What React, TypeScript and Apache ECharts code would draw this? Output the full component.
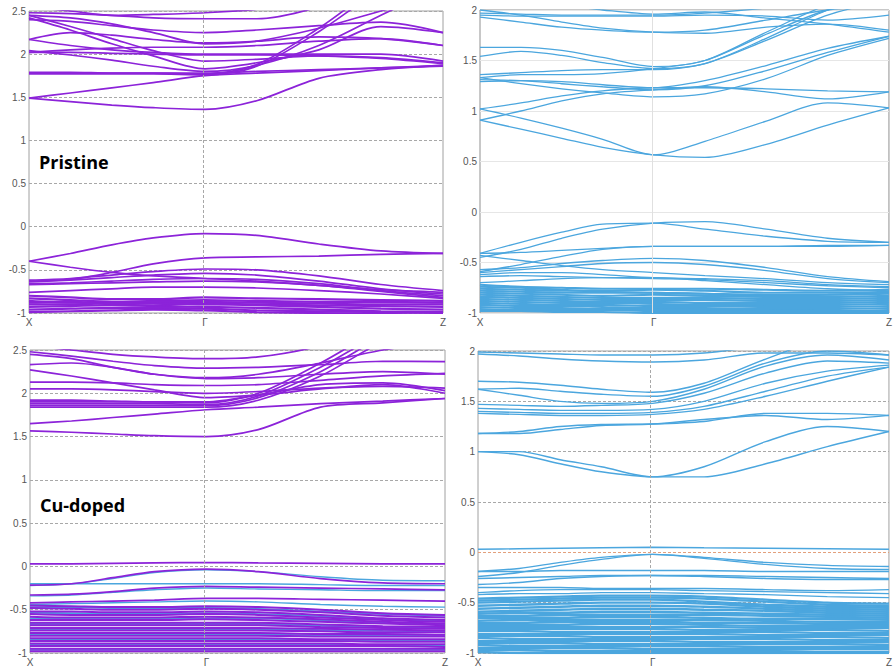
import React, { useEffect, useRef } from 'react';
import * as echarts from 'echarts';

// k-path positions (X → Γ → Z), Γ sits at 0.425 of the path length
const K = [0, 0.1, 0.2, 0.3, 0.425, 0.55, 0.7, 0.85, 1.0];
const K_TICKS = [0, 0.425, 1];
const K_NAMES = ['X', 'Γ', 'Z'];

const PURPLE = '#8C23D9';
const BLUE = '#4BA6DE';

// ---------- Panel 1: Pristine, spin up (purple) ----------
const P1_BANDS = [
  [1.49, 1.45, 1.41, 1.38, 1.36, 1.46, 1.72, 1.82, 1.87],
  [1.49, 1.55, 1.61, 1.67, 1.75, 1.78, 1.81, 1.84, 1.87],
  [1.77, 1.77, 1.77, 1.77, 1.76, 1.86, 2.26, 2.75, 3.1],
  [1.79, 1.79, 1.78, 1.78, 1.77, 1.88, 2.3, 2.8, 3.1],
  [1.78, 1.78, 1.78, 1.78, 1.78, 1.8, 1.82, 1.84, 1.86],
  [2.04, 1.99, 1.93, 1.86, 1.8, 1.87, 2.1, 2.45, 2.8],
  [2.42, 2.28, 2.12, 1.98, 1.83, 1.9, 2.05, 2.32, 2.25],
  [2.45, 2.32, 2.18, 2.04, 1.92, 1.94, 1.98, 1.96, 1.9],
  [2.02, 2.02, 2.01, 2.0, 1.99, 1.99, 1.98, 1.95, 1.89],
  [2.17, 2.1, 2.05, 2.02, 2.0, 2.0, 2.0, 2.0, 1.92],
  [2.02, 2.05, 2.07, 2.08, 2.08, 2.1, 2.15, 2.18, 2.1],
  [2.17, 2.25, 2.22, 2.17, 2.13, 2.15, 2.2, 2.18, 2.1],
  [2.4, 2.38, 2.33, 2.28, 2.25, 2.28, 2.33, 2.37, 2.25],
  [2.45, 2.42, 2.35, 2.25, 2.12, 2.15, 2.3, 2.5, 2.7],
  [2.48, 2.47, 2.45, 2.42, 2.41, 2.41, 2.55, 2.85, 3.1],
  [2.55, 2.5, 2.45, 2.46, 2.48, 2.52, 2.6, 2.8, 3.0],
  [-0.40, -0.31, -0.21, -0.13, -0.08, -0.1, -0.2, -0.28, -0.31],
  [-0.40, -0.47, -0.53, -0.57, -0.6, -0.63, -0.68, -0.73, -0.76],
  [-0.63, -0.61, -0.53, -0.43, -0.36, -0.35, -0.34, -0.32, -0.31],
  [-0.62, -0.6, -0.56, -0.52, -0.49, -0.5, -0.57, -0.67, -0.74],
  [-0.64, -0.62, -0.59, -0.56, -0.54, -0.56, -0.63, -0.72, -0.78],
  [-0.66, -0.65, -0.63, -0.61, -0.6, -0.61, -0.66, -0.74, -0.8],
  [-0.67, -0.66, -0.65, -0.64, -0.63, -0.64, -0.68, -0.75, -0.82],
  [-0.76, -0.74, -0.72, -0.7, -0.7, -0.71, -0.74, -0.78, -0.83],
  [-0.8, -0.82, -0.84, -0.84, -0.82, -0.83, -0.84, -0.85, -0.86],
  [-0.83, -0.85, -0.87, -0.86, -0.85, -0.86, -0.87, -0.87, -0.88],
  [-0.86, -0.88, -0.88, -0.87, -0.87, -0.88, -0.89, -0.9, -0.9],
  [-0.88, -0.87, -0.9, -0.91, -0.89, -0.9, -0.91, -0.92, -0.93],
  [-0.9, -0.9, -0.89, -0.89, -0.9, -0.91, -0.93, -0.95, -0.96],
  [-0.93, -0.92, -0.91, -0.92, -0.93, -0.94, -0.96, -0.98, -0.99],
  [-0.96, -0.95, -0.94, -0.94, -0.95, -0.97, -0.98, -0.99, -1.0],
  [-0.99, -0.98, -0.97, -0.96, -0.97, -0.99, -1.0, -1.01, -1.02],
];

// ---------- Panel 2: Pristine, spin down (blue) ----------
const P2_BANDS = [
  [1.02, 0.93, 0.83, 0.72, 0.565, 0.70, 0.90, 1.08, 1.03],
  [0.91, 0.82, 0.73, 0.64, 0.565, 0.54, 0.67, 0.86, 1.03],
  [1.02, 1.08, 1.15, 1.2, 1.23, 1.23, 1.22, 1.2, 1.19],
  [0.91, 1.0, 1.1, 1.17, 1.21, 1.24, 1.19, 1.12, 1.19],
  [1.33, 1.27, 1.22, 1.18, 1.14, 1.17, 1.32, 1.55, 1.72],
  [1.31, 1.3, 1.27, 1.24, 1.21, 1.25, 1.4, 1.58, 1.74],
  [1.29, 1.3, 1.29, 1.26, 1.23, 1.3, 1.45, 1.62, 1.74],
  [1.36, 1.38, 1.4, 1.41, 1.41, 1.47, 1.7, 1.95, 2.1],
  [1.33, 1.36, 1.36, 1.37, 1.42, 1.5, 1.76, 2.0, 2.1],
  [1.54, 1.59, 1.55, 1.48, 1.42, 1.47, 1.72, 2.0, 2.2],
  [1.63, 1.63, 1.6, 1.53, 1.44, 1.5, 1.78, 2.05, 2.2],
  [1.93, 1.88, 1.83, 1.8, 1.78, 1.8, 1.9, 2.0, 2.05],
  [2.0, 1.95, 1.88, 1.82, 1.78, 1.77, 1.83, 1.86, 1.8],
  [1.95, 1.94, 1.94, 1.94, 1.94, 1.95, 1.94, 1.9, 1.95],
  [1.97, 1.96, 1.95, 1.95, 1.95, 1.97, 2.02, 2.1, 2.1],
  [2.1, 2.1, 2.05, 2.0, 1.96, 1.98, 1.92, 1.86, 1.78],
  [-0.41, -0.3, -0.2, -0.12, -0.11, -0.17, -0.24, -0.29, -0.30],
  [-0.45, -0.37, -0.26, -0.17, -0.11, -0.095, -0.17, -0.26, -0.30],
  [-0.41, -0.4, -0.38, -0.36, -0.34, -0.34, -0.34, -0.34, -0.33],
  [-0.59, -0.52, -0.44, -0.37, -0.34, -0.34, -0.34, -0.33, -0.33],
  [-0.43, -0.48, -0.53, -0.57, -0.6, -0.63, -0.66, -0.7, -0.72],
  [-0.57, -0.55, -0.51, -0.48, -0.46, -0.48, -0.55, -0.64, -0.69],
  [-0.6, -0.57, -0.54, -0.51, -0.5, -0.52, -0.58, -0.66, -0.7],
  [-0.62, -0.6, -0.6, -0.62, -0.65, -0.66, -0.68, -0.72, -0.74],
  [-0.64, -0.63, -0.64, -0.65, -0.66, -0.67, -0.7, -0.73, -0.75],
  [-0.7, -0.68, -0.66, -0.65, -0.65, -0.68, -0.72, -0.76, -0.78],
  [-0.72, -0.74, -0.75, -0.76, -0.76, -0.76, -0.77, -0.78, -0.77],
  [-0.74, -0.75, -0.77, -0.79, -0.8, -0.81, -0.83, -0.82, -0.8],
  [-0.76, -0.77, -0.78, -0.78, -0.77, -0.78, -0.8, -0.8, -0.79],
  [-0.78, -0.79, -0.8, -0.8, -0.8, -0.81, -0.82, -0.82, -0.81],
  [-0.8, -0.81, -0.82, -0.83, -0.82, -0.83, -0.84, -0.84, -0.83],
  [-0.82, -0.83, -0.84, -0.85, -0.85, -0.85, -0.86, -0.86, -0.85],
  [-0.84, -0.85, -0.86, -0.87, -0.87, -0.87, -0.88, -0.88, -0.87],
  [-0.86, -0.87, -0.88, -0.89, -0.89, -0.9, -0.9, -0.9, -0.89],
  [-0.88, -0.89, -0.9, -0.9, -0.91, -0.92, -0.92, -0.92, -0.91],
  [-0.9, -0.91, -0.92, -0.92, -0.93, -0.93, -0.94, -0.94, -0.93],
  [-0.92, -0.93, -0.93, -0.94, -0.95, -0.95, -0.96, -0.96, -0.95],
  [-0.94, -0.95, -0.95, -0.96, -0.96, -0.97, -0.97, -0.98, -0.97],
  [-0.96, -0.97, -0.97, -0.97, -0.98, -0.98, -0.99, -0.99, -0.98],
  [-0.98, -0.98, -0.99, -0.99, -1.0, -1.0, -1.0, -1.0, -1.0],
];

// ---------- Panel 3: Cu-doped, spin up (purple) + spin down (blue) ----------
const P3_BANDS = [
  [1.565, 1.55, 1.53, 1.51, 1.5, 1.58, 1.84, 1.89, 1.94],
  [1.65, 1.68, 1.72, 1.76, 1.81, 1.84, 1.88, 1.91, 1.94],
  [1.84, 1.84, 1.84, 1.84, 1.84, 1.92, 2.2, 2.6, 2.9],
  [1.86, 1.86, 1.86, 1.86, 1.86, 1.95, 2.25, 2.65, 2.9],
  [1.88, 1.88, 1.88, 1.88, 1.87, 1.97, 2.3, 2.7, 3.0],
  [1.9, 1.9, 1.9, 1.9, 1.89, 2.0, 2.35, 2.75, 3.0],
  [1.92, 1.92, 1.91, 1.9, 1.9, 1.98, 2.1, 2.12, 2.03],
  [2.05, 2.05, 2.04, 2.02, 2.0, 2.02, 2.06, 2.08, 2.06],
  [2.27, 2.2, 2.12, 2.04, 1.95, 1.98, 2.05, 2.1, 2.0],
  [2.13, 2.13, 2.12, 2.1, 2.09, 2.1, 2.15, 2.2, 2.23],
  [2.33, 2.35, 2.3, 2.22, 2.17, 2.18, 2.22, 2.25, 2.22],
  [2.45, 2.4, 2.3, 2.22, 2.18, 2.22, 2.35, 2.5, 2.6],
  [2.48, 2.43, 2.37, 2.32, 2.29, 2.3, 2.33, 2.37, 2.365],
  [2.55, 2.5, 2.45, 2.42, 2.40, 2.42, 2.55, 2.8, 3.0],
  [0.03, 0.03, 0.035, 0.04, 0.045, 0.04, 0.035, 0.03, 0.03],
  [-0.215, -0.2, -0.13, -0.06, -0.03, -0.06, -0.14, -0.19, -0.2],
  [-0.33, -0.32, -0.29, -0.25, -0.23, -0.24, -0.25, -0.26, -0.27],
  [-0.42, -0.41, -0.4, -0.39, -0.37, -0.37, -0.38, -0.39, -0.4],
  [-0.45, -0.46, -0.47, -0.47, -0.46, -0.47, -0.5, -0.54, -0.56],
  [-0.48, -0.49, -0.5, -0.5, -0.49, -0.5, -0.53, -0.57, -0.59],
  [-0.52, -0.52, -0.53, -0.53, -0.52, -0.53, -0.56, -0.6, -0.62],
  [-0.55, -0.56, -0.56, -0.56, -0.55, -0.56, -0.59, -0.62, -0.64],
  [-0.58, -0.59, -0.59, -0.59, -0.58, -0.59, -0.61, -0.64, -0.66],
  [-0.62, -0.62, -0.62, -0.62, -0.61, -0.62, -0.64, -0.66, -0.68],
  [-0.65, -0.65, -0.65, -0.65, -0.65, -0.65, -0.67, -0.69, -0.7],
  [-0.68, -0.68, -0.68, -0.68, -0.68, -0.68, -0.7, -0.71, -0.72],
  [-0.71, -0.71, -0.71, -0.71, -0.71, -0.71, -0.72, -0.73, -0.74],
  [-0.74, -0.74, -0.74, -0.74, -0.74, -0.74, -0.75, -0.76, -0.76],
  [-0.77, -0.77, -0.77, -0.77, -0.77, -0.77, -0.78, -0.78, -0.79],
  [-0.8, -0.8, -0.8, -0.8, -0.8, -0.8, -0.81, -0.81, -0.81],
  [-0.83, -0.83, -0.83, -0.83, -0.83, -0.83, -0.84, -0.84, -0.84],
  [-0.86, -0.86, -0.86, -0.86, -0.86, -0.86, -0.86, -0.87, -0.87],
  [-0.89, -0.89, -0.89, -0.89, -0.89, -0.89, -0.89, -0.9, -0.9],
  [-0.92, -0.92, -0.92, -0.92, -0.92, -0.92, -0.92, -0.92, -0.93],
  [-0.95, -0.95, -0.95, -0.95, -0.95, -0.95, -0.95, -0.95, -0.95],
  [-0.98, -0.98, -0.98, -0.98, -0.98, -0.98, -0.98, -0.98, -0.98],
];
const P3_BLUE = [
  [-0.22, -0.2, -0.14, -0.07, -0.04, -0.06, -0.12, -0.16, -0.165],
  [-0.2, -0.2, -0.2, -0.2, -0.2, -0.2, -0.21, -0.22, -0.22],
  [-0.34, -0.33, -0.3, -0.27, -0.25, -0.26, -0.27, -0.28, -0.28],
  [-0.44, -0.43, -0.42, -0.41, -0.4, -0.41, -0.44, -0.46, -0.47],
  [-0.47, -0.47, -0.48, -0.48, -0.48, -0.49, -0.52, -0.55, -0.57],
  [-0.535, -0.54, -0.545, -0.545, -0.54, -0.55, -0.575, -0.61, -0.63],
  [-0.6, -0.6, -0.6, -0.6, -0.6, -0.6, -0.625, -0.65, -0.67],
  [-0.665, -0.665, -0.665, -0.665, -0.665, -0.665, -0.685, -0.7, -0.71],
  [-0.725, -0.725, -0.725, -0.725, -0.725, -0.725, -0.735, -0.745, -0.75],
  [-0.785, -0.785, -0.785, -0.785, -0.785, -0.785, -0.795, -0.795, -0.8],
  [-0.845, -0.845, -0.845, -0.845, -0.845, -0.845, -0.85, -0.855, -0.855],
  [-0.905, -0.905, -0.905, -0.905, -0.905, -0.905, -0.905, -0.91, -0.915],
  [-0.965, -0.965, -0.965, -0.965, -0.965, -0.965, -0.965, -0.965, -0.965],
];

// ---------- Panel 4: Cu-doped, spin down (blue) ----------
const P4_BANDS = [
  [1.0, 1.0, 0.92, 0.85, 0.75, 0.85, 1.1, 1.25, 1.2],
  [1.0, 0.97, 0.88, 0.8, 0.75, 0.75, 0.88, 1.05, 1.2],
  [1.18, 1.2, 1.25, 1.27, 1.275, 1.3, 1.38, 1.38, 1.36],
  [1.18, 1.18, 1.22, 1.26, 1.275, 1.32, 1.36, 1.32, 1.36],
  [1.38, 1.37, 1.36, 1.36, 1.37, 1.42, 1.55, 1.7, 1.84],
  [1.40, 1.39, 1.38, 1.38, 1.39, 1.45, 1.6, 1.75, 1.84],
  [1.43, 1.42, 1.41, 1.41, 1.42, 1.5, 1.68, 1.8, 1.86],
  [1.47, 1.46, 1.45, 1.46, 1.48, 1.58, 1.78, 1.9, 1.88],
  [1.62, 1.56, 1.5, 1.48, 1.5, 1.62, 1.85, 1.96, 1.91],
  [1.62, 1.63, 1.6, 1.57, 1.55, 1.65, 1.88, 2.0, 1.96],
  [1.70, 1.69, 1.66, 1.62, 1.59, 1.68, 1.92, 2.1, 2.1],
  [1.99, 1.98, 1.97, 1.96, 1.96, 1.98, 2.05, 2.1, 2.05],
  [1.97, 1.95, 1.92, 1.9, 1.89, 1.91, 1.98, 1.98, 1.96],
  [0.03, 0.035, 0.04, 0.045, 0.05, 0.045, 0.04, 0.035, 0.03],
  [-0.19, -0.16, -0.1, -0.05, -0.02, -0.05, -0.1, -0.13, -0.14],
  [-0.24, -0.2, -0.13, -0.07, -0.02, -0.06, -0.12, -0.16, -0.17],
  [-0.19, -0.19, -0.18, -0.18, -0.18, -0.18, -0.19, -0.19, -0.19],
  [-0.26, -0.25, -0.24, -0.23, -0.23, -0.23, -0.24, -0.25, -0.26],
  [-0.32, -0.3, -0.26, -0.24, -0.23, -0.24, -0.26, -0.27, -0.27],
  [-0.35, -0.35, -0.35, -0.36, -0.36, -0.36, -0.37, -0.38, -0.37],
  [-0.4, -0.38, -0.37, -0.37, -0.37, -0.38, -0.39, -0.4, -0.41],
  [-0.42, -0.41, -0.41, -0.4, -0.4, -0.41, -0.42, -0.44, -0.45],
  [-0.46, -0.45, -0.44, -0.43, -0.43, -0.44, -0.47, -0.5, -0.51],
  [-0.48, -0.47, -0.46, -0.45, -0.45, -0.46, -0.49, -0.52, -0.53],
  [-0.5, -0.49, -0.48, -0.47, -0.47, -0.49, -0.52, -0.54, -0.55],
  [-0.53, -0.52, -0.51, -0.5, -0.5, -0.51, -0.54, -0.56, -0.57],
  [-0.56, -0.55, -0.54, -0.53, -0.53, -0.54, -0.56, -0.58, -0.59],
  [-0.59, -0.58, -0.57, -0.56, -0.56, -0.57, -0.58, -0.6, -0.61],
  [-0.61, -0.6, -0.6, -0.59, -0.59, -0.6, -0.61, -0.62, -0.63],
  [-0.63, -0.63, -0.62, -0.62, -0.62, -0.62, -0.63, -0.64, -0.65],
  [-0.65, -0.65, -0.65, -0.64, -0.64, -0.65, -0.66, -0.66, -0.67],
  [-0.68, -0.67, -0.67, -0.67, -0.67, -0.67, -0.68, -0.69, -0.69],
  [-0.7, -0.7, -0.69, -0.69, -0.69, -0.7, -0.7, -0.71, -0.71],
  [-0.72, -0.72, -0.72, -0.71, -0.71, -0.72, -0.73, -0.73, -0.73],
  [-0.74, -0.74, -0.74, -0.74, -0.74, -0.74, -0.75, -0.75, -0.75],
  [-0.76, -0.76, -0.76, -0.76, -0.76, -0.77, -0.77, -0.77, -0.78],
  [-0.78, -0.78, -0.79, -0.79, -0.79, -0.79, -0.79, -0.8, -0.8],
  [-0.81, -0.81, -0.81, -0.81, -0.81, -0.81, -0.82, -0.82, -0.82],
  [-0.83, -0.83, -0.83, -0.84, -0.84, -0.84, -0.84, -0.84, -0.85],
  [-0.85, -0.86, -0.86, -0.86, -0.86, -0.86, -0.86, -0.87, -0.87],
  [-0.88, -0.88, -0.88, -0.88, -0.88, -0.89, -0.89, -0.89, -0.89],
  [-0.9, -0.9, -0.9, -0.91, -0.91, -0.91, -0.91, -0.91, -0.92],
  [-0.92, -0.93, -0.93, -0.93, -0.93, -0.93, -0.94, -0.94, -0.94],
  [-0.95, -0.95, -0.95, -0.95, -0.96, -0.96, -0.96, -0.96, -0.96],
  [-0.97, -0.97, -0.98, -0.98, -0.98, -0.98, -0.98, -0.99, -0.99],
  [-0.99, -1.0, -1.0, -1.0, -1.0, -1.0, -1.0, -1.0, -1.0],
];

const Y_MAX = [2.5, 2, 2.5, 2];
const PANEL_LABELS = ['Pristine', '', 'Cu-doped', ''];

type Group = { bands: number[][]; color: string; width: number; denseBelow: number; denseWidth: number };
type Panel = {
  grid: { left: number; top: number; width: number; height: number };
  groups: Group[];
  gridColor: string;
  gridType: any;
  border: string;
  zeroColor?: string;
};

const PANELS: Panel[] = [
  {
    grid: { left: 29, top: 11, width: 414, height: 302 },
    groups: [{ bands: P1_BANDS, color: PURPLE, width: 1.7, denseBelow: -0.79, denseWidth: 2.2 }],
    gridColor: '#a8a8a8', gridType: [3, 2], border: '#a0a0a0',
  },
  {
    grid: { left: 480, top: 10, width: 413, height: 303 },
    groups: [{ bands: P2_BANDS, color: BLUE, width: 1.3, denseBelow: -0.71, denseWidth: 2.1 }],
    gridColor: '#e6e6e6', gridType: 'solid', border: '#909090',
  },
  {
    grid: { left: 30, top: 350, width: 415, height: 303 },
    groups: [
      { bands: P3_BLUE, color: BLUE, width: 1.4, denseBelow: -0.46, denseWidth: 1.8 },
      { bands: P3_BANDS, color: PURPLE, width: 1.7, denseBelow: -0.44, denseWidth: 2.0 },
    ],
    gridColor: '#a8a8a8', gridType: [3, 2], border: '#a0a0a0',
  },
  {
    grid: { left: 478, top: 351, width: 414, height: 302 },
    groups: [{ bands: P4_BANDS, color: BLUE, width: 1.4, denseBelow: -0.42, denseWidth: 2.4 }],
    gridColor: '#a8a8a8', gridType: [3, 2], border: '#a0a0a0', zeroColor: '#e3a07c',
  },
];

function buildOption() {
  const grids: any[] = [];
  const xAxes: any[] = [];
  const yAxes: any[] = [];
  const series: any[] = [];
  const graphics: any[] = [];

  PANELS.forEach((p, i) => {
    grids.push({ ...p.grid, show: true, borderColor: p.border, borderWidth: 1, backgroundColor: '#fff', containLabel: false });
    xAxes.push({
      gridIndex: i, type: 'value', min: 0, max: 1,
      axisLine: { show: false }, axisTick: { show: false }, splitLine: { show: false },
      axisLabel: {
        customValues: K_TICKS,
        formatter: (v: number) => {
          let best = 0;
          K_TICKS.forEach((t, j) => { if (Math.abs(t - v) < Math.abs(K_TICKS[best] - v)) best = j; });
          return K_NAMES[best];
        },
        fontSize: 10, color: '#555', margin: 4, fontFamily: 'Liberation Sans',
      },
    });
    yAxes.push({
      gridIndex: i, type: 'value', min: -1, max: Y_MAX[i], interval: 0.5,
      axisLine: { show: false }, axisTick: { show: false },
      axisLabel: { fontSize: 10, color: '#555', margin: 3, fontFamily: 'Liberation Sans' },
      splitLine: { show: true, lineStyle: { color: p.gridColor, type: p.gridType, width: 1 } },
    });

    const markData: any[] = [{ xAxis: K_TICKS[1] }];
    if (p.zeroColor) markData.push({ yAxis: 0, lineStyle: { color: p.zeroColor, type: [3, 2], width: 1 } });
    series.push({
      type: 'line', xAxisIndex: i, yAxisIndex: i, data: [], silent: true,
      markLine: {
        silent: true, symbol: 'none', label: { show: false }, animation: false,
        lineStyle: { color: p.gridColor === '#e6e6e6' ? '#e0e0e0' : '#a8a8a8', type: p.gridType, width: 1 },
        data: markData,
      },
    });

    p.groups.forEach((g) => {
      g.bands.forEach((b) => {
        const dense = Math.max(...b) < g.denseBelow;
        series.push({
          type: 'line', xAxisIndex: i, yAxisIndex: i, silent: true,
          data: K.map((k, j) => [k, b[j]]),
          symbol: 'none', showSymbol: false, smooth: 0.3,
          lineStyle: { color: g.color, width: dense ? g.denseWidth : g.width },
          clip: true,
        });
      });
    });

    if (PANEL_LABELS[i]) {
      graphics.push({
        type: 'text', x: p.grid.left + 10, y: p.grid.top + (i === 0 ? 151 : 155),
        style: {
          text: PANEL_LABELS[i], fill: '#000', verticalAlign: 'middle',
          font: 'bold 18px "Open Sans"',
        },
        z: 100,
      });
    }
  });

  return {
    animation: false,
    backgroundColor: '#fff',
    grid: grids,
    xAxis: xAxes,
    yAxis: yAxes,
    series,
    graphic: graphics,
  };
}

export default function App() {
  const ref = useRef<HTMLDivElement>(null);
  useEffect(() => {
    if (!ref.current) return;
    const chart = echarts.init(ref.current, undefined, { renderer: 'svg' });
    chart.setOption(buildOption() as any);
    return () => chart.dispose();
  }, []);
  return (
    <div
      ref={ref}
      style={{ position: 'absolute', left: 0, top: 0, width: 895, height: 671, background: '#fff' }}
    />
  );
}
